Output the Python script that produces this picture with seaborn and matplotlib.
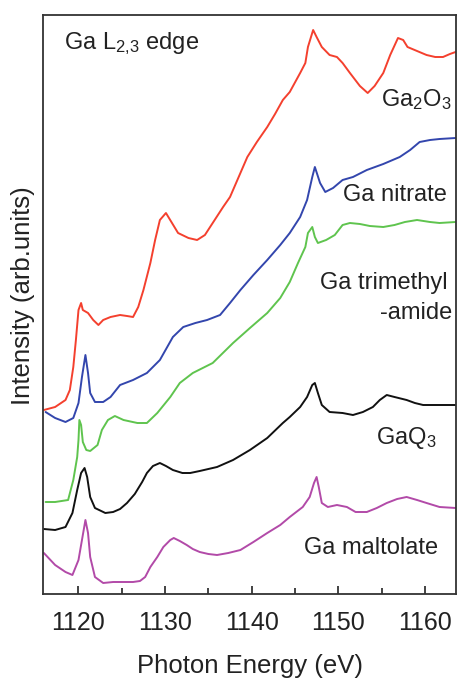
import matplotlib
matplotlib.use("Agg")
import matplotlib.pyplot as plt
import seaborn as sns
from matplotlib.ticker import MultipleLocator

# Ga L2,3 edge XANES spectra (stacked, arbitrary units)
ga2o3_e = [1116.0, 1117.3, 1118.5, 1119.0, 1119.4, 1119.7, 1120.0, 1120.3, 1120.5, 1121.1,
           1121.7, 1122.3, 1122.85, 1123.7, 1124.8, 1125.6, 1126.3, 1126.9, 1127.5, 1128.3,
           1128.85, 1129.4, 1130.1, 1130.8, 1131.5, 1132.7, 1133.7, 1134.6, 1135.5, 1136.7,
           1137.5, 1139.5, 1140.6, 1141.8, 1142.7, 1143.6, 1144.4, 1145.6, 1146.2, 1146.5,
           1147.1, 1147.5, 1148.1, 1149.0, 1149.85, 1150.5, 1151.35, 1152.5, 1153.4, 1154.2,
           1155.2, 1156.0, 1156.9, 1157.5, 1158.0, 1159.1, 1160.2, 1161.2, 1162.1, 1162.9,
           1163.55]
ga2o3_i = [18.4, 18.7, 19.4, 20.4, 22.7, 25.4, 28.4, 29.1, 28.4, 28.1,
           27.4, 26.9, 27.4, 27.7, 27.9, 27.8, 27.7, 28.7, 30.4, 33.1,
           35.4, 37.4, 38.1, 37.1, 36.1, 35.6, 35.4, 35.9, 37.1, 38.7,
           39.7, 43.7, 45.2, 46.7, 48.0, 49.4, 50.2, 52.1, 53.1, 54.7,
           56.4, 55.7, 54.7, 53.9, 53.7, 53.1, 52.1, 50.8, 50.1, 50.8,
           52.1, 53.9, 55.6, 55.4, 54.7, 54.3, 53.9, 53.7, 53.7, 54.0,
           54.2]

nitrate_e = [1116.2, 1117.3, 1118.5, 1119.4, 1120.0, 1120.4, 1120.8, 1121.1, 1121.35, 1121.9,
             1122.85, 1123.7, 1124.8, 1126.3, 1127.9, 1129.4, 1130.9, 1132.1, 1133.5, 1134.85,
             1136.35, 1137.5, 1138.7, 1140.2, 1141.8, 1143.3, 1144.4, 1145.6, 1146.4, 1147.0,
             1147.3, 1147.9, 1148.5, 1149.4, 1150.5, 1151.7, 1153.3, 1155.2, 1157.1, 1158.3,
             1159.4, 1160.6, 1161.7, 1163.55]
nitrate_i = [18.2, 17.6, 17.2, 17.6, 19.1, 21.7, 23.9, 22.1, 20.1, 19.2,
             19.2, 19.7, 20.9, 21.4, 22.1, 23.4, 25.7, 26.7, 27.1, 27.4,
             27.9, 29.1, 30.4, 31.9, 33.4, 34.9, 36.1, 37.7, 39.4, 41.7,
             42.7, 41.1, 40.2, 40.6, 41.4, 41.7, 42.4, 43.0, 43.7, 44.4,
             45.2, 45.4, 45.5, 45.6]

amide_e = [1116.2, 1117.3, 1118.8, 1119.4, 1119.85, 1120.0, 1120.1, 1120.3, 1120.5, 1120.9,
           1121.35, 1122.2, 1122.7, 1123.4, 1124.2, 1125.2, 1126.8, 1127.9, 1129.1, 1130.6,
           1131.7, 1133.2, 1135.5, 1137.85, 1139.8, 1141.8, 1143.3, 1144.4, 1145.35, 1146.2,
           1146.5, 1147.0, 1147.3, 1147.65, 1148.6, 1149.6, 1150.5, 1151.35, 1152.5, 1153.65,
           1155.2, 1156.5, 1157.7, 1159.1, 1160.6, 1161.7, 1163.55]
amide_i = [9.2, 9.2, 9.4, 11.4, 13.7, 15.4, 17.4, 16.9, 15.2, 14.4,
           14.3, 14.9, 16.4, 17.4, 17.8, 17.4, 17.1, 17.1, 18.1, 19.7,
           21.1, 22.1, 23.1, 25.1, 26.6, 28.1, 29.6, 31.2, 33.1, 34.7,
           36.1, 36.7, 35.7, 35.1, 35.4, 35.9, 36.9, 37.1, 37.0, 36.8,
           36.7, 36.9, 37.2, 37.4, 37.2, 37.1, 37.2]

gaq3_e = [1116.0, 1117.3, 1118.5, 1119.3, 1119.85, 1120.3, 1120.7, 1121.0, 1121.35, 1121.9,
          1123.1, 1124.0, 1124.8, 1125.6, 1126.5, 1127.35, 1127.9, 1128.6, 1129.4, 1130.1,
          1130.9, 1132.0, 1132.9, 1134.0, 1136.0, 1137.85, 1139.8, 1141.8, 1143.6, 1144.4,
          1145.6, 1146.4, 1147.0, 1147.3, 1147.65, 1148.1, 1149.0, 1150.5, 1151.7, 1152.85,
          1154.0, 1154.8, 1155.6, 1156.5, 1157.9, 1158.85, 1159.8, 1161.7, 1163.55]
gaq3_i = [6.5, 6.4, 6.7, 8.1, 10.4, 12.1, 12.6, 11.7, 9.7, 8.6,
          8.1, 8.2, 8.5, 9.1, 10.0, 11.2, 12.1, 12.8, 13.1, 12.8,
          12.4, 12.1, 12.1, 12.3, 12.7, 13.4, 14.4, 15.6, 17.1, 17.7,
          18.7, 19.7, 20.9, 21.1, 20.1, 18.9, 18.2, 18.1, 17.9, 18.2,
          18.7, 19.4, 19.9, 19.7, 19.4, 19.1, 18.9, 18.9, 18.9]

maltolate_e = [1116.0, 1117.3, 1118.5, 1119.3, 1120.0, 1120.4, 1120.8, 1121.1, 1121.35, 1121.9,
               1122.85, 1124.0, 1124.8, 1126.3, 1127.1, 1127.7, 1128.3, 1129.1, 1129.8, 1130.6,
               1131.0, 1131.7, 1132.5, 1133.2, 1134.0, 1135.0, 1136.0, 1137.3, 1138.7, 1140.2,
               1141.8, 1143.3, 1144.4, 1145.9, 1146.7, 1147.2, 1147.5, 1147.75, 1148.1, 1148.8,
               1149.85, 1151.0, 1152.0, 1153.3, 1154.45, 1155.6, 1156.8, 1157.9, 1159.1, 1160.2,
               1161.7, 1163.55]
maltolate_i = [4.1, 2.9, 2.2, 1.9, 3.4, 5.4, 7.4, 6.1, 3.7, 1.7,
               1.1, 1.2, 1.2, 1.2, 1.3, 1.7, 2.7, 3.7, 4.7, 5.4,
               5.6, 5.3, 4.9, 4.5, 4.2, 4.0, 3.9, 4.1, 4.4, 5.2,
               6.1, 6.9, 7.7, 8.7, 9.7, 11.1, 11.7, 10.7, 9.1, 8.7,
               8.9, 8.7, 8.2, 8.2, 8.6, 9.1, 9.5, 9.7, 9.4, 9.1,
               8.7, 8.6]

x_ticks = [1120, 1130, 1140, 1150, 1160]

sns.set_style("ticks")
plt.rcParams['font.family'] = ['Liberation Sans', 'DejaVu Sans']
plt.rcParams['mathtext.default'] = 'regular'

fig = plt.figure(figsize=(4.58, 6.79), dpi=100)
ax = fig.add_axes([43 / 458, 1 - 594 / 679, 413 / 458, 579 / 679])

curves = [
    (ga2o3_e, ga2o3_i, '#f4402e'),
    (nitrate_e, nitrate_i, '#3346ad'),
    (amide_e, amide_i, '#5fc44e'),
    (gaq3_e, gaq3_i, '#111111'),
    (maltolate_e, maltolate_i, '#b24aa8'),
]
for e, i, c in curves:
    sns.lineplot(x=e, y=i, color=c, linewidth=1.4, estimator=None, sort=False, ax=ax)

ax.set_xlim(1115.9, 1163.6)
ax.set_ylim(0, 57.9)
ax.set_xticks(x_ticks)
ax.xaxis.set_minor_locator(MultipleLocator(5))
ax.set_yticks([])
ax.tick_params(axis='x', which='both', direction='in', labelsize=18, pad=12, colors='#222222')
ax.tick_params(axis='x', which='major', length=6, width=1.2)
ax.tick_params(axis='x', which='minor', length=4, width=1.2)
for s in ax.spines.values():
    s.set_linewidth(1.3)
    s.set_color('#333333')

ax.set_xlabel("Photon Energy (eV)", fontsize=18.5, labelpad=14, color='#222222')
ax.set_ylabel("Intensity (arb.units)", fontsize=18.5, color='#222222')
ax.yaxis.set_label_coords(-0.02, 0.515)

tk = dict(fontsize=17, color='#222222', va='center')
ax.text(1118.35, 55.0, "Ga L$_{2{,}3}$ edge", ha='left', **tk)
ax.text(1163.1, 49.4, "Ga$_2$O$_3$", ha='right', **tk)
ax.text(1162.5, 39.9, "Ga nitrate", ha='right', **tk)
ax.text(1162.65, 31.1, "Ga trimethyl", ha='right', **tk)
ax.text(1163.2, 28.1, "-amide", ha='right', **tk)
ax.text(1161.4, 15.6, "GaQ$_3$", ha='right', **tk)
ax.text(1161.5, 4.6, "Ga maltolate", ha='right', **tk)

fig.savefig("out.png", dpi=100)
